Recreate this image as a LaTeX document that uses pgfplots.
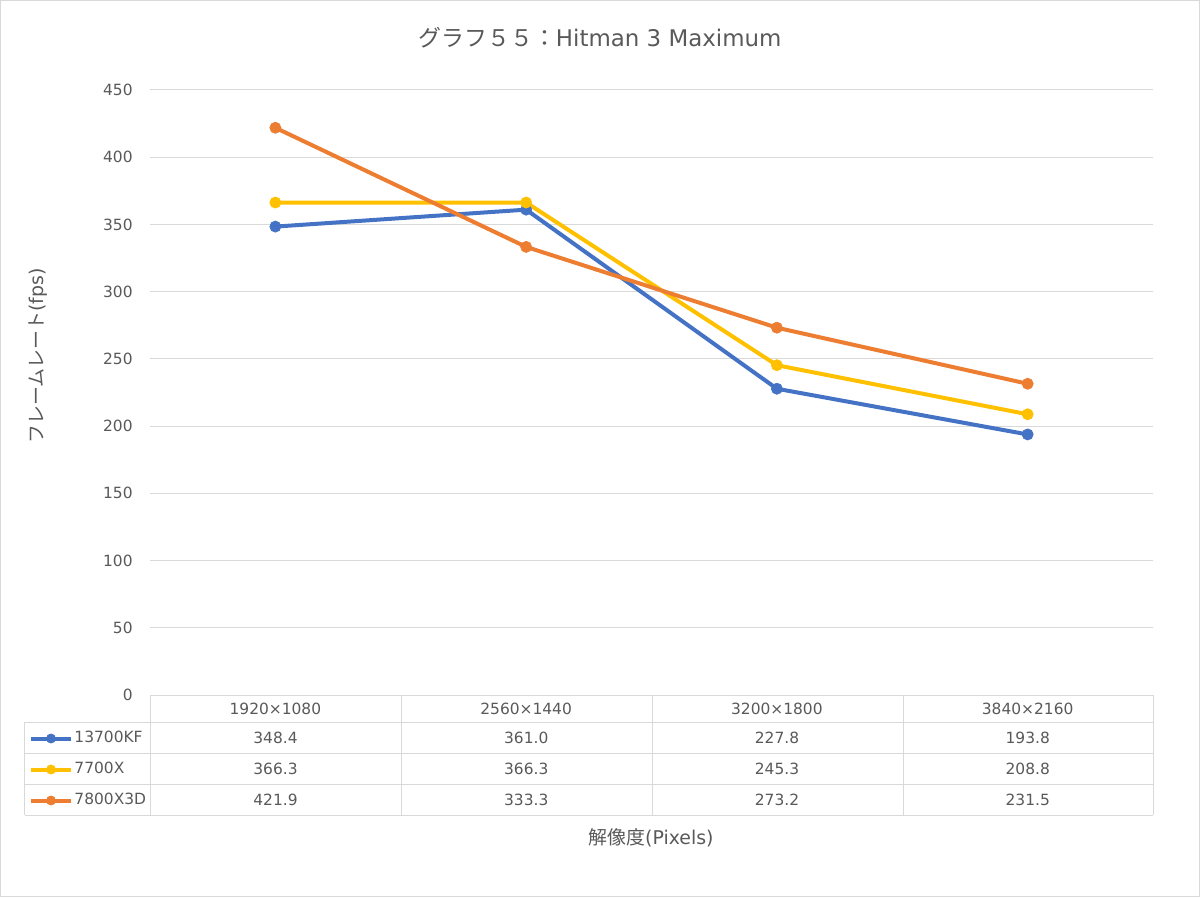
\documentclass[border=0pt]{standalone}
\usepackage{fontspec}
\setmainfont{DejaVu Sans}
\newfontfamily\jp{Noto Sans CJK JP}
\usepackage{pgfplots}
\usepackage{pgfplotstable}
\pgfplotsset{compat=1.18}
\definecolor{cblue}{HTML}{4472C4}
\definecolor{cyel}{HTML}{FFC000}
\definecolor{corg}{HTML}{ED7D31}
\definecolor{gridc}{HTML}{D9D9D9}
\definecolor{txt}{HTML}{595959}

% frame rates per resolution (0..3 = 1920x1080 ... 3840x2160)
\pgfplotstableread{
idx kf    sx    sxd
0   348.4 366.3 421.9
1   361.0 366.3 333.3
2   227.8 245.3 273.2
3   193.8 208.8 231.5
}\data

\begin{document}
\begin{tikzpicture}
\begin{axis}[
    at={(0,0)}, anchor=south west,
    width=501.5bp, height=302.5bp, scale only axis,
    xmin=-0.5, xmax=3.5, ymin=0, ymax=450,
    xtick={0,1,2,3},
    xticklabels={1920×1080,2560×1440,3200×1800,3840×2160},
    ytick={0,50,...,450},
    ymajorgrids, grid style={gridc, line width=0.5bp},
    axis line style={draw=none},
    major tick length=0pt,
    tick label style={font=\fontsize{7.75}{9}\selectfont, text=txt},
    xticklabel style={anchor=center, yshift=-6.75bp},
    yticklabel style={anchor=east, inner sep=0pt, xshift=-8.5bp},
    /pgf/number format/assume math mode=true,
    clip=false,
    legend cell align=left,
    legend style={draw=none, fill=none, at={(-0.12463,-0.0463)}, anchor=north west,
        inner sep=0pt, outer sep=0pt, row sep=0pt, column sep=0.75bp,
        nodes={inner sep=0pt, minimum height=15.5bp, font=\fontsize{7.75}{9}\selectfont, text=txt}},
    every legend image post/.style={mark size=2.3bp},
    legend image code/.code={\path (0bp,0bp);
        \draw[mark repeat=2, mark phase=2, #1] plot coordinates {(2bp,0bp) (12bp,0bp) (22bp,0bp)};},
    every axis plot/.append style={line width=2bp, mark=*, mark size=2.8bp},
]
\addplot[cblue, mark options={fill=cblue, line width=0.3bp}] table[x=idx, y=kf] {\data};
\addlegendentry{13700KF}
\addplot[cyel, mark options={fill=cyel, line width=0.3bp}] table[x=idx, y=sx] {\data};
\addlegendentry{7700X}
\addplot[corg, mark options={fill=corg, line width=0.3bp}] table[x=idx, y=sxd] {\data};
\addlegendentry{7800X3D}
\end{axis}

% pixel grid of the reference: (150,695) is the axis origin
\begin{scope}[x=0.5bp, y=-0.5bp, shift={(-150,-695)}]
  \draw[gridc, line width=0.5bp] (0.5,0.5) rectangle (1199.5,896.5);
  \begin{scope}[gridc, line width=0.5bp]
    \draw (150,695) -- (1153,695);
    \foreach \y in {722,753,784,815} \draw (25,\y) -- (1153,\y);
    \draw (25,722) -- (25,815);
    \foreach \x in {150,401,652,903,1153} \draw (\x,695) -- (\x,815);
  \end{scope}
  \foreach \col [count=\k from 0] in {kf,sx,sxd} {
    \foreach \i in {0,...,3} {
      \pgfplotstablegetelem{\i}{\col}\of\data
      \node[font=\fontsize{7.75}{9}\selectfont, text=txt]
        at ({275.5+250.75*\i}, {737.5+31*\k}) {\pgfplotsretval};
    }
  }
  \node[font=\fontsize{11.5}{14}\selectfont, text=txt] at (600,38)
    {{\jp グラフ５５：}Hitman 3 Maximum};
  \node[font=\fontsize{9.5}{11}\selectfont, text=txt, rotate=90] at (38,356)
    {{\jp フレームレート}(fps)};
  \node[font=\fontsize{9.5}{11}\selectfont, text=txt] at (651,838)
    {{\jp 解像度}(Pixels)};
\end{scope}
\end{tikzpicture}
\end{document}
